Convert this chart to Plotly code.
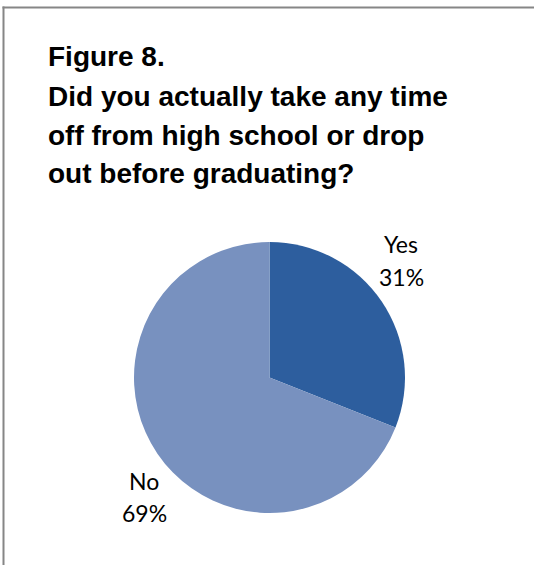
import plotly.graph_objects as go

W, H = 534, 565

categories = ["Yes", "No"]
values = [31, 69]
colors = ["#2D5E9E", "#7891BF"]

title_lines = [
    "Figure 8.",
    "Did you actually take any time",
    "off from high school or drop",
    "out before graduating?",
]

fig = go.Figure()
fig.add_trace(go.Pie(
    labels=categories,
    values=values,
    sort=False,
    direction="clockwise",
    rotation=0,
    marker=dict(colors=colors, line=dict(width=0)),
    textinfo="none",
    hoverinfo="label+percent",
    showlegend=False,
    domain=dict(x=[133 / W, 406 / W], y=[1 - 513 / H, 1 - 242 / H]),
))

annotations = []
title_y = [57, 96, 135, 173]
for line, yy in zip(title_lines, title_y):
    annotations.append(dict(
        text=f"<b>{line}</b>", x=46 / W, y=1 - yy / H, xref="paper", yref="paper",
        xanchor="left", yanchor="middle", showarrow=False,
        font=dict(family="Liberation Sans, Arial, sans-serif", size=28, color="#000000"),
    ))

total = sum(values)
label_pos = {"Yes": (401, 244, 277), "No": (144, 481, 513)}
for cat, v in zip(categories, values):
    px, py1, py2 = label_pos[cat]
    for txt, py in ((cat, py1), (f"{round(100 * v / total)}%", py2)):
        annotations.append(dict(
            text=txt, x=px / W, y=1 - py / H,
            xref="paper", yref="paper", xanchor="center", yanchor="middle",
            showarrow=False, align="center",
            font=dict(family="Lato, Open Sans, sans-serif", size=23, color="#000000"),
        ))

fig.update_layout(
    width=W, height=H,
    margin=dict(l=0, r=0, t=0, b=0, autoexpand=False),
    paper_bgcolor="#FFFFFF",
    plot_bgcolor="#FFFFFF",
    annotations=annotations,
    shapes=[
        dict(type="line", xref="paper", yref="paper",
             x0=2.5 / W, x1=1.05, y0=1 - 7.5 / H, y1=1 - 7.5 / H,
             line=dict(color="#868686", width=2)),
        dict(type="line", xref="paper", yref="paper",
             x0=3.5 / W, x1=3.5 / W, y0=-0.05, y1=1 - 6.5 / H,
             line=dict(color="#868686", width=2)),
    ],
)

fig.write_html(
    "out.html",
    config={"displayModeBar": False},
    post_script="document.body.style.margin='0';document.body.style.overflow='hidden';",
)
